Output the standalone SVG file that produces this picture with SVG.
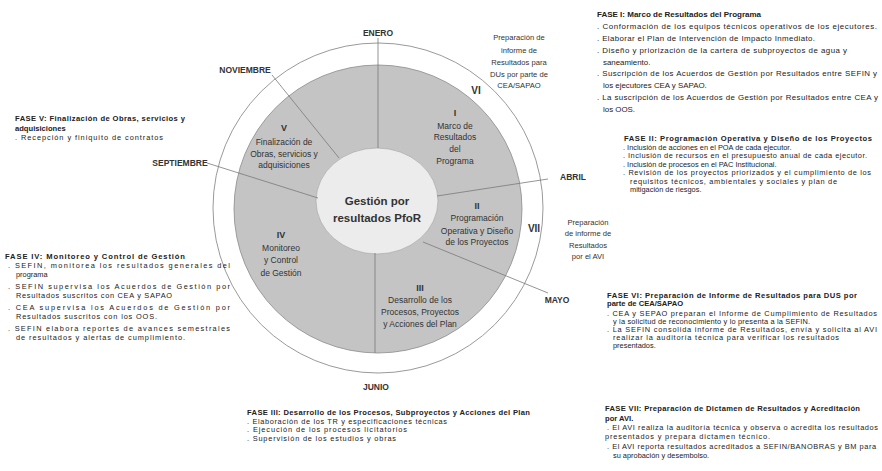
<svg xmlns="http://www.w3.org/2000/svg" width="882" height="471" viewBox="0 0 882 471">
<style>
text{font-family:"Liberation Sans",Arial,sans-serif;fill:#222}
.t{font-size:7.6px;font-weight:bold}
.t8{font-size:8px;font-weight:bold}
.b{font-size:7.4px}
.b8{font-size:7.9px}
.m{font-size:8.5px;font-weight:bold;text-anchor:middle;fill:#333}
.s{font-size:8.5px;text-anchor:middle;fill:#333}
.r{font-size:9px;font-weight:bold;text-anchor:middle;fill:#333}
.rv{font-size:10px;font-weight:bold;text-anchor:middle;fill:#333}
.p{font-size:7.6px;text-anchor:middle;fill:#333}
.c{font-size:11.5px;font-weight:bold;text-anchor:middle;fill:#333}
.ln{stroke:#7a7a7a;stroke-width:0.8;fill:none}
</style>
<rect width="882" height="471" fill="#fff"/>

<g id="wheel">
<circle cx="378" cy="208" r="165" fill="#fff" stroke="#9a9a9a" stroke-width="1"/>
<circle cx="378" cy="209" r="144" fill="#c4c4c4" stroke="#8a8a8a" stroke-width="0.8"/>
<ellipse cx="377" cy="201" rx="61" ry="53" fill="#ececec" stroke="#a0a0a0" stroke-width="0.6"/>
</g>

<g id="connectors">
<path class="ln" d="M378 38 V148"/>
<path class="ln" d="M272 75 L339 158"/>
<path class="ln" d="M207 163 L318 198"/>
<path class="ln" d="M437 196 L548 179"/>
<path class="ln" d="M423 242 L548 293"/>
<path class="ln" d="M375 253 V353"/>
</g>

<g id="center">
<text class="c" x="377" y="205">Gestión por</text>
<text class="c" x="377" y="222">resultados PfoR</text>
</g>

<g id="sector-I">
<text class="r" x="455" y="116">I</text>
<text class="s" x="455" y="129">Marco de</text>
<text class="s" x="455" y="140">Resultados</text>
<text class="s" x="455" y="152">del</text>
<text class="s" x="455" y="164">Programa</text>
</g>
<g id="sector-II">
<text class="r" x="477" y="209">II</text>
<text class="s" x="477" y="221">Programación</text>
<text class="s" x="477" y="234">Operativa y Diseño</text>
<text class="s" x="477" y="245">de los Proyectos</text>
</g>
<g id="sector-III">
<text class="r" x="420" y="291">III</text>
<text class="s" x="420" y="303">Desarrollo de los</text>
<text class="s" x="420" y="315">Procesos, Proyectos</text>
<text class="s" x="420" y="327">y Acciones del Plan</text>
</g>
<g id="sector-IV">
<text class="r" x="281" y="238">IV</text>
<text class="s" x="281" y="251">Monitoreo</text>
<text class="s" x="281" y="263">y Control</text>
<text class="s" x="281" y="276">de Gestión</text>
</g>
<g id="sector-V">
<text class="r" x="284" y="131">V</text>
<text class="s" x="284" y="145">Finalización de</text>
<text class="s" x="284" y="157">Obras, servicios y</text>
<text class="s" x="284" y="168">adquisiciones</text>
</g>
<g id="sector-VI">
<text class="rv" x="476" y="94">VI</text>
<text class="p" x="519" y="40">Preparación de</text>
<text class="p" x="519" y="53">informe de</text>
<text class="p" x="519" y="65">Resultados para</text>
<text class="p" x="519" y="77">DUs por parte de</text>
<text class="p" x="519" y="88">CEA/SAPAO</text>
</g>
<g id="sector-VII">
<text class="rv" x="534" y="232">VII</text>
<text class="p" x="588" y="225">Preparación</text>
<text class="p" x="588" y="236">de informe de</text>
<text class="p" x="588" y="248">Resultados</text>
<text class="p" x="588" y="259">por el AVI</text>
</g>

<g id="months">
<text class="m" x="378" y="36">ENERO</text>
<text class="m" x="245" y="73">NOVIEMBRE</text>
<text class="m" x="180" y="166">SEPTIEMBRE</text>
<text class="m" x="573" y="180">ABRIL</text>
<text class="m" x="557" y="303">MAYO</text>
<text class="m" x="376" y="390">JUNIO</text>
</g>

<g id="fase-I">
<text class="t8" x="597" y="17">FASE I: Marco de Resultados del Programa</text>
<text class="b8" x="597" y="29" textLength="280" lengthAdjust="spacing">. Conformación de los equipos técnicos operativos de los ejecutores.</text>
<text class="b8" x="597" y="41" textLength="218" lengthAdjust="spacing">. Elaborar el Plan de Intervención de Impacto Inmediato.</text>
<text class="b8" x="597" y="53" textLength="250" lengthAdjust="spacing">. Diseño y priorización de la cartera de subproyectos de agua y</text>
<text class="b8" x="603" y="65">saneamiento.</text>
<text class="b8" x="597" y="76" textLength="280" lengthAdjust="spacing">. Suscripción de los Acuerdos de Gestión por Resultados entre SEFIN y</text>
<text class="b8" x="603" y="88">los ejecutores CEA y SAPAO.</text>
<text class="b8" x="597" y="100" textLength="281" lengthAdjust="spacing">. La suscripción de los Acuerdos de Gestión por Resultados entre CEA y</text>
<text class="b8" x="603" y="112">los OOS.</text>
</g>

<g id="fase-II">
<text class="t" x="624" y="141" textLength="248" lengthAdjust="spacing">FASE II: Programación Operativa y Diseño de los Proyectos</text>
<text class="b" x="623" y="150">. Inclusión de acciones en el POA de cada ejecutor.</text>
<text class="b" x="623" y="158" textLength="244" lengthAdjust="spacing">. Inclusión de recursos en el presupuesto anual de cada ejecutor.</text>
<text class="b" x="623" y="167">. Inclusión de procesos en el PAC Institucional.</text>
<text class="b" x="623" y="175" textLength="248" lengthAdjust="spacing">. Revisión de los proyectos priorizados y el cumplimiento de los</text>
<text class="b" x="630" y="184" textLength="207" lengthAdjust="spacing">requisitos técnicos, ambientales y sociales y plan de</text>
<text class="b" x="630" y="192">mitigación de riesgos.</text>
</g>

<g id="fase-VI">
<text class="t" x="607" y="298" textLength="250" lengthAdjust="spacing">FASE VI: Preparación de Informe de Resultados para DUS por</text>
<text class="t" x="607" y="306">parte de CEA/SAPAO</text>
<text class="b" x="607" y="316" textLength="270" lengthAdjust="spacing">. CEA y SEPAO preparan el Informe de Cumplimiento de Resultados</text>
<text class="b" x="613" y="324" textLength="197" lengthAdjust="spacing">y la solicitud de reconocimiento y lo presenta a la SEFIN.</text>
<text class="b" x="607" y="332" textLength="270" lengthAdjust="spacing">. La SEFIN consolida informe de Resultados, envía y solicita al AVI</text>
<text class="b" x="613" y="340" textLength="226" lengthAdjust="spacing">realizar la auditoría técnica para verificar los resultados</text>
<text class="b" x="613" y="348">presentados.</text>
</g>

<g id="fase-VII">
<text class="t" x="605" y="411" textLength="255" lengthAdjust="spacing">FASE VII: Preparación de Dictamen de Resultados y Acreditación</text>
<text class="t" x="605" y="421">por AVI.</text>
<text class="b" x="607" y="430" textLength="271" lengthAdjust="spacing">. El AVI realiza la auditoría técnica y observa o acredita los resultados</text>
<text class="b" x="605" y="439" textLength="165" lengthAdjust="spacing">presentados y prepara dictamen técnico.</text>
<text class="b" x="607" y="449" textLength="269" lengthAdjust="spacing">. El AVI reporta resultados acreditados a SEFIN/BANOBRAS y BM para</text>
<text class="b" x="613" y="458">su aprobación y desembolso.</text>
</g>

<g id="fase-III">
<text class="t" x="247" y="415" textLength="283" lengthAdjust="spacing">FASE III: Desarrollo de los Procesos, Subproyectos y Acciones del Plan</text>
<text class="b" x="247" y="424" textLength="200" lengthAdjust="spacing">. Elaboración de los TR y especificaciones técnicas</text>
<text class="b" x="247" y="432" textLength="160" lengthAdjust="spacing">. Ejecución de los procesos licitatorios</text>
<text class="b" x="247" y="441" textLength="149" lengthAdjust="spacing">. Supervisión de los estudios y obras</text>
</g>

<g id="fase-IV">
<text class="t" x="5" y="259" textLength="180" lengthAdjust="spacing">FASE IV: Monitoreo y Control de Gestión</text>
<text class="b" x="8" y="268" textLength="222" lengthAdjust="spacing">. SEFIN, monitorea los resultados generales del</text>
<text class="b" x="16" y="277">programa</text>
<text class="b" x="8" y="289" textLength="222" lengthAdjust="spacing">. SEFIN supervisa los Acuerdos de Gestión por</text>
<text class="b" x="16" y="298" textLength="156" lengthAdjust="spacing">Resultados suscritos con CEA y SAPAO</text>
<text class="b" x="8" y="310" textLength="222" lengthAdjust="spacing">. CEA supervisa los Acuerdos de Gestión por</text>
<text class="b" x="16" y="319" textLength="141" lengthAdjust="spacing">Resultados suscritos con los OOS.</text>
<text class="b" x="8" y="331" textLength="222" lengthAdjust="spacing">. SEFIN elabora reportes de avances semestrales</text>
<text class="b" x="16" y="340" textLength="169" lengthAdjust="spacing">de resultados y alertas de cumplimiento.</text>
</g>

<g id="fase-V">
<text class="t" x="15" y="121" textLength="170" lengthAdjust="spacing">FASE V: Finalización de Obras, servicios y</text>
<text class="t" x="15" y="131">adquisiciones</text>
<text class="b" x="15" y="140" textLength="148" lengthAdjust="spacing">. Recepción y finiquito de contratos</text>
</g>
</svg>
